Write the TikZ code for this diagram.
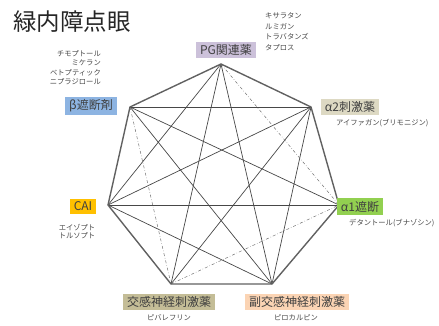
\documentclass[tikz,border=0pt]{standalone}
\usepackage{fontspec}
\setmainfont{Noto Sans CJK JP}
\definecolor{pgfill}{HTML}{CCC1DA}
\definecolor{betafill}{HTML}{8DB4E2}
\definecolor{atwofill}{HTML}{DDD9C3}
\definecolor{aonefill}{HTML}{92D050}
\definecolor{caifill}{HTML}{FFC000}
\definecolor{symfill}{HTML}{C4BD97}
\definecolor{parafill}{HTML}{FBD4B4}
\begin{document}
\begin{tikzpicture}[x=1pt,y=-1pt,
  rim/.style={draw=black!62,line width=1.4pt,line join=round},
  chord/.style={draw=black!72,line width=0.7pt},
  hid/.style={draw=black!55,line width=0.5pt,dash dot},
  drug/.style={font=\fontsize{7.3}{8}\selectfont,text=black!72,inner sep=0pt},
  cls/.style={font=\fontsize{12}{13}\selectfont,text=black!75,inner xsep=4pt,inner ysep=2.5pt}]
\useasboundingbox (0,0) rectangle (439,326);
\node (title) at (72,22) {\fontsize{23.5}{25}\selectfont\color{black!85}緑内障点眼};
% corners of the heptagon
\coordinate (pg) at (221,64);
\coordinate (ba) at (130,107);
\coordinate (a2) at (311,107);
\coordinate (cai) at (108,205);
\coordinate (a1) at (339,205);
\coordinate (sym) at (171,284);
\coordinate (para) at (272,284);
% diagonals
\draw[chord] (pg) -- (cai);
\draw[chord] (pg) -- (sym);
\draw[chord] (pg) -- (para);
\draw[chord] (ba) -- (a2);
\draw[chord] (ba) -- (a1);
\draw[chord] (ba) -- (para);
\draw[chord] (a2) -- (cai);
\draw[chord] (a2) -- (sym);
\draw[chord] (a2) -- (para);
\draw[chord] (cai) -- (a1);
\draw[chord] (cai) -- (para);
\draw[hid] (pg) -- (a1);
\draw[hid] (ba) -- (sym);
\draw[hid] (sym) -- (a1);
% outline
\draw[rim] (pg) -- (a2) -- (a1) -- (para) -- (sym) -- (cai) -- (ba) -- cycle;
% drug classes
\node[cls,fill=pgfill] (pgbox) at (226,50) {PG関連薬};
\node[cls,fill=betafill] (babox) at (91,106) {β遮断剤};
\node[cls,fill=atwofill] (a2box) at (350,107) {α2刺激薬};
\node[cls,fill=aonefill] (a1box) at (360,206.5) {α1遮断};
\node[cls,fill=caifill] (caibox) at (83,206.5) {CAI};
\node[cls,fill=symfill] (symbox) at (169,302) {交感神経刺激薬};
\node[cls,fill=parafill] (parabox) at (297,302) {副交感神経刺激薬};
% drugs
\node[drug,anchor=west] (pgd1) at (265,16) {キサラタン};
\node[drug,anchor=west] (pgd2) at (265,26.5) {ルミガン};
\node[drug,anchor=west] (pgd3) at (265,37) {トラバタンズ};
\node[drug,anchor=west] (pgd4) at (265,47.5) {タプロス};
\node[drug,anchor=east] (bad1) at (101,54) {チモプトール};
\node[drug,anchor=east] (bad2) at (101,63) {ミケラン};
\node[drug,anchor=east] (bad3) at (101,72.5) {ベトプティック};
\node[drug,anchor=east] (bad4) at (101,82) {ニプラジロール};
\node[drug,anchor=west] (a2d) at (336,123) {アイファガン(ブリモニジン)};
\node[drug,anchor=west] (a1d) at (349,223) {デタントール(ブナゾシン)};
\node[drug] (caid1) at (77,227.5) {エイゾプト};
\node[drug] (caid2) at (77,236) {トルソプト};
\node[drug] (symd) at (169,318) {ピバレフリン};
\node[drug] (parad) at (296,318) {ピロカルピン};
\end{tikzpicture}
\end{document}
